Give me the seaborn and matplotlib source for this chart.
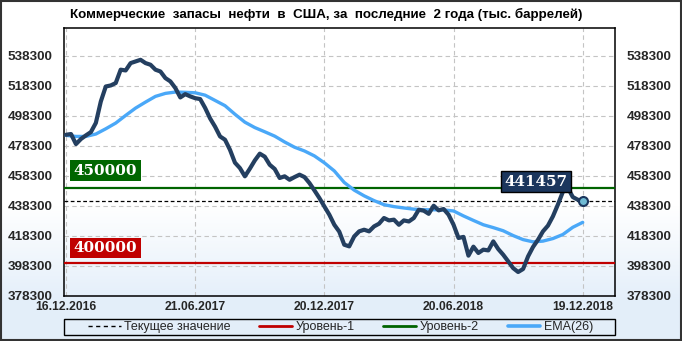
import numpy as np
import pandas as pd
import matplotlib
matplotlib.use("Agg")
import matplotlib.pyplot as plt
import seaborn as sns
from matplotlib.patches import Rectangle
from matplotlib.lines import Line2D

# ---------------- data ----------------
title = "Коммерческие  запасы  нефти  в  США, за  последние  2 года (тыс. баррелей)"

stocks = [485600, 486100, 479400, 482800, 485200, 487400, 493500, 507800, 517800, 518500,
          520100, 529000, 528500, 533400, 534500, 535600, 533400, 532300, 529000, 527800,
          523400, 521200, 516800, 510500, 512700, 511200, 510000, 509400, 503500, 496500,
          491000, 484500, 482300, 475600, 467000, 463400, 457900, 463000, 468500, 473000,
          471000, 465600, 462800, 456800, 457900, 455600, 457400, 459000, 457400, 453400,
          448500, 443400, 437800, 432300, 425600, 421000, 412300, 411200, 417800, 421200,
          422300, 421200, 424500, 426300, 430100, 428500, 429000, 425600, 428500, 427800,
          430100, 435600, 435000, 432900, 438300, 435200, 436100, 432300, 425600, 416800,
          417500, 405000, 411000, 406800, 409000, 408500, 414500, 409400, 405600, 401200,
          396700, 394100, 396100, 404500, 410800, 415600, 421200, 425000, 431200, 439000,
          447500, 450300, 444100, 442300, 441457]

ema_index = list(range(0, 105, 2))
ema_values = [485200, 484500, 484500, 486100, 489600, 493400, 498500, 503400, 507400, 511200,
              513200, 514100, 513900, 513600, 512000, 508500, 505000, 499300, 494000, 490400,
              487600, 484700, 480800, 477300, 474800, 471500, 466900, 461500, 453800, 448700,
              444900, 441700, 439000, 437700, 436800, 436000, 435600, 435600, 435500, 434800,
              431500, 428500, 425600, 423700, 421600, 418400, 415700, 414200, 414700, 416400,
              419100, 423900, 427200]

current_value = 441457
level1 = 400000
level2 = 450000

x_tick_index = [0, 26, 52, 78, 104]
x_tick_labels = ["16.12.2016", "21.06.2017", "20.12.2017", "20.06.2018", "19.12.2018"]
y_ticks = [378300, 398300, 418300, 438300, 458300, 478300, 498300, 518300, 538300]
legend_labels = ["Текущее значение", "Уровень-1", "Уровень-2", "EMA(26)"]

# ---------------- style ----------------
sns.set_style("white")
plt.rcParams['font.family'] = ['Liberation Sans', 'DejaVu Sans']
plt.rcParams['font.weight'] = 'bold'

C_DARK = '#243F60'
C_EMA = '#4AA8F8'
C_GREEN = '#006400'
C_RED = '#C00000'
C_NAVY = '#1B365D'

W, H = 682, 341
fig = plt.figure(figsize=(W / 100, H / 100), dpi=100)

# background gradient (white -> light blue towards bottom)
bg = fig.add_axes([0, 0, 1, 1], zorder=-10)
ypx = np.arange(H)
t = np.clip((ypx - 205) / 95.0, 0, 1)
top_c = np.array([1.0, 1.0, 1.0])
bot_c = np.array([0.894, 0.937, 0.980])
grad = top_c[None, :] * (1 - t[:, None]) + bot_c[None, :] * t[:, None]
bg.imshow(grad[:, None, :], aspect='auto', extent=[0, 1, 0, 1])
bg.axis('off')

ax = fig.add_axes([64.3 / W, 1 - 295.7 / H, (615 - 64.3) / W, (295.7 - 27.7) / H])
ax.set_facecolor('none')

idx = np.arange(len(stocks))
df = pd.DataFrame({'idx': idx, 'stocks': stocks})
df_ema = pd.DataFrame({'idx': ema_index, 'ema': ema_values})

ax.axhline(level2, color=C_GREEN, lw=1.6, zorder=3)
ax.axhline(level1, color=C_RED, lw=1.6, zorder=3)
ax.axhline(current_value, color='black', lw=0.9, ls=(0, (3, 2)), zorder=3)

sns.lineplot(data=df_ema, x='idx', y='ema', ax=ax, color=C_EMA, lw=2.4, zorder=4)
sns.lineplot(data=df, x='idx', y='stocks', ax=ax, color=C_DARK, lw=3.0, zorder=5)
ax.scatter([idx[-1]], [stocks[-1]], s=42, facecolor='#6FBAD3', edgecolor=C_NAVY,
           linewidth=1.5, zorder=8)

ax.set_xlim(-0.35, 110.5)
ax.set_ylim(378300, 557000)
ax.set_yticks(y_ticks)
ax.set_xticks(x_tick_index)
ax.set_xticklabels(x_tick_labels)
ax.set_xlabel('')
ax.set_ylabel('')
ax.tick_params(axis='y', length=0, pad=8.3, labelleft=True, labelright=True, labelsize=9.7)
ax.tick_params(axis='x', length=0, pad=3.5, labelsize=8.7)
ax.grid(True, color='#C4C4C4', ls=(0, (4, 3)), lw=0.8)
ax.set_axisbelow(True)
for s in ax.spines.values():
    s.set_visible(True)
    s.set_color('black')
    s.set_linewidth(1.1)

# level labels
for val, col, dy in [(level2, '#006600', 12.6), (level1, C_RED, 10.8)]:
    ax.annotate(f"{val}", xy=(0.0748, val), xycoords=('axes fraction', 'data'),
                xytext=(0, dy), textcoords='offset points', ha='center', va='center',
                color='white', fontsize=10.9, fontweight='bold', family='DejaVu Serif',
                bbox=dict(boxstyle='square,pad=0.22', fc=col, ec='none'), zorder=7)

# current value label
ax.annotate(f"{current_value}", xy=(idx[-1], current_value), xycoords='data',
            xytext=(-33.5, 14.0), textcoords='offset points', ha='center', va='center',
            color='white', fontsize=10.9, fontweight='bold', family='DejaVu Serif',
            bbox=dict(boxstyle='square,pad=0.22', fc=C_NAVY, ec='black', lw=1), zorder=7)

# title
ttl = fig.text(326.5 / W, 1 - 14.5 / H, title, ha='center', va='center',
               fontsize=10, fontweight='bold', color='black')
r = fig.canvas.get_renderer()
w = ttl.get_window_extent(r).width
ttl.set_fontsize(10 * 513 / w)

# legend
handles = [Line2D([], [], color='black', lw=1, ls=(0, (3, 2.5))),
           Line2D([], [], color=C_RED, lw=2),
           Line2D([], [], color=C_GREEN, lw=2),
           Line2D([], [], color=C_EMA, lw=2.6)]
fig.legend(handles, legend_labels, loc='center',
           bbox_to_anchor=(88 / W, 1 - 335 / H, (593 - 88) / W, 16 / H),
           mode='expand', ncol=4, frameon=False, borderpad=0, borderaxespad=0,
           handlelength=2.6, handletextpad=0.3,
           prop={'weight': 'normal', 'size': 9})
fig.add_artist(Rectangle((64 / W, 1 - 335 / H), (615 - 64) / W, 16 / H,
                         transform=fig.transFigure, fill=False, ec='black', lw=1))
# outer frame
fig.add_artist(Rectangle((0.7 / W, 0.7 / H), 1 - 1.4 / W, 1 - 1.4 / H,
                         transform=fig.transFigure, fill=False, ec='#333333', lw=1.5))

fig.savefig('out.png', dpi=100)
